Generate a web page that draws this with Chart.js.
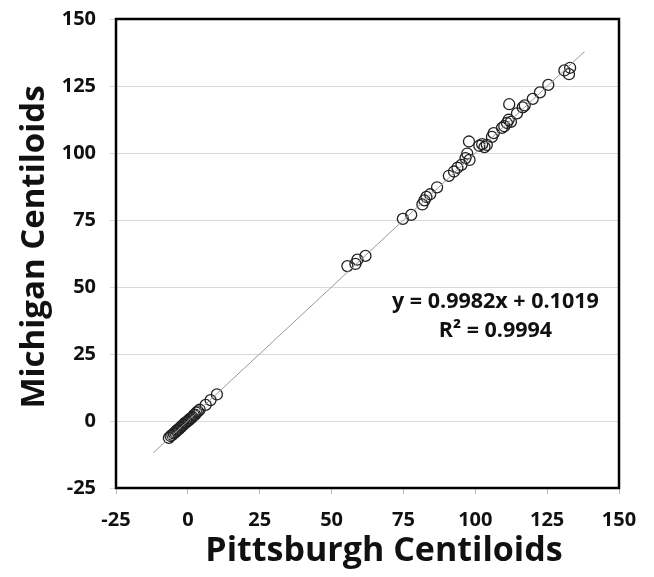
<!DOCTYPE html>
<html>
<head>
<meta charset="utf-8">
<script src="https://cdn.jsdelivr.net/npm/chart.js@4/dist/chart.umd.min.js"></script>
<style>
  html, body { margin: 0; padding: 0; background: #fff; }
  #wrap { width: 654px; height: 577px; }
</style>
</head>
<body>
<div id="wrap"><canvas id="myChart" width="654" height="577"></canvas></div>
<script>
// Pittsburgh (x) vs Michigan (y) centiloids
const pittsburgh = [
  -6.6, -6.0, -5.4, -4.9, -4.4, -4.0, -3.6, -3.1, -2.7, -2.3, -1.9, -1.5, -1.1, -0.6, -0.2,
  0.3, 0.7, 1.2, 1.6, 2.1, 2.5, 3.0, 3.5, 4.1, 6.2, 7.9, 10.1,
  55.5, 58.3, 59.0, 61.8,
  74.8, 77.7, 81.6, 82.3, 83.0, 84.3, 86.7, 90.8, 92.6, 93.8, 95.2, 96.6, 97.2, 98.0, 97.8,
  101.4, 102.4, 103.2, 104.0, 105.8, 106.4, 109.3, 110.1, 111.0, 111.6, 112.4, 111.8,
  114.5, 116.5, 117.2, 120.0, 122.5, 125.4, 131.0, 133.0, 132.6
];
const michigan = [
  -6.3, -5.6, -5.2, -4.6, -4.3, -3.7, -3.3, -3.0, -2.5, -2.2, -1.6, -1.4, -0.8, -0.5, -0.1,
  0.2, 0.8, 1.1, 1.5, 2.2, 2.4, 3.1, 3.6, 4.2, 6.0, 7.8, 9.9,
  57.8, 58.6, 60.2, 61.6,
  75.4, 76.9, 80.8, 82.3, 83.6, 84.6, 87.2, 91.5, 93.1, 94.5, 95.6, 98.1, 99.8, 97.4, 104.3,
  102.7, 103.3, 102.2, 103.0, 106.0, 107.4, 109.4, 110.0, 111.2, 112.4, 111.6, 118.2,
  114.8, 117.0, 117.8, 120.2, 122.6, 125.4, 130.8, 131.8, 129.4
];
// trendline y = 0.9982x + 0.1019 drawn across the data span
const slope = 0.9982;
const intercept = 0.1019;
const trendX = [-12, 138];
const equationText = ['y = 0.9982x + 0.1019', 'R\u00b2 = 0.9994'];
const axisTicks = [-25, 0, 25, 50, 75, 100, 125, 150];
const xTitle = 'Pittsburgh Centiloids';
const yTitle = 'Michigan Centiloids';

const points = pittsburgh.map((x, i) => ({ x: x, y: michigan[i] }));
const trend = trendX.map(x => ({ x: x, y: slope * x + intercept }));

const fontFam = '"Open Sans", sans-serif';

// black frame round the plot, axis titles and the equation text
const framePlugin = {
  id: 'frame',
  afterDraw(chart) {
    const c = chart.ctx, a = chart.chartArea;
    c.save();
    c.strokeStyle = '#000';
    c.lineWidth = 2.5;
    c.strokeRect(a.left, a.top, a.right - a.left, a.bottom - a.top);
    const xs = chart.scales.x, ys = chart.scales.y;
    c.fillStyle = '#111';
    c.textAlign = 'center';
    c.textBaseline = 'middle';
    c.font = 'bold 21.5px ' + fontFam;
    c.fillText(equationText[0], xs.getPixelForValue(107), ys.getPixelForValue(44.4));
    c.fillText(equationText[1], xs.getPixelForValue(107), ys.getPixelForValue(33.8));
    c.font = 'bold 34px ' + fontFam;
    c.fillText(xTitle, 384, 551);
    c.translate(35, 247);
    c.rotate(-Math.PI / 2);
    c.font = 'bold 33px ' + fontFam;
    c.fillText(yTitle, 0, 0);
    c.restore();
  }
};

const ctx = document.getElementById('myChart').getContext('2d');
const myChart = new Chart(ctx, {
  type: 'scatter',
  data: {
    datasets: [{
      type: 'line',
      data: trend,
      borderColor: '#999',
      borderWidth: 1,
      pointRadius: 0,
      fill: false
    }, {
      data: points,
      backgroundColor: 'rgba(0,0,0,0)',
      borderColor: '#222',
      borderWidth: 1.3,
      pointRadius: 5.5
    }]
  },
  options: {
    responsive: false,
    animation: false,
    layout: { padding: { left: 0, right: 35, top: 19, bottom: 0 } },
    plugins: { legend: { display: false }, tooltip: { enabled: false } },
    scales: {
      x: {
        type: 'linear', min: -25, max: 150,
        afterBuildTicks: s => { s.ticks = axisTicks.map(v => ({ value: v })); },
        afterFit: s => { s.height = 89; s.paddingLeft = 0; s.paddingRight = 0; },
        grid: { drawOnChartArea: false, color: '#bbb', tickLength: 6 },
        border: { display: false },
        ticks: { color: '#111', font: { family: fontFam, weight: 'bold', size: 20 }, padding: 14 }
      },
      y: {
        type: 'linear', min: -25, max: 150,
        afterBuildTicks: s => { s.ticks = axisTicks.map(v => ({ value: v })); },
        afterFit: s => { s.width = 116; s.paddingTop = 0; s.paddingBottom = 0; },
        grid: { color: '#d9d9d9', tickLength: 6 },
        border: { display: false },
        ticks: { color: '#111', font: { family: fontFam, weight: 'bold', size: 20 }, padding: 14 }
      }
    }
  },
  plugins: [framePlugin]
});
</script>
</body>
</html>
